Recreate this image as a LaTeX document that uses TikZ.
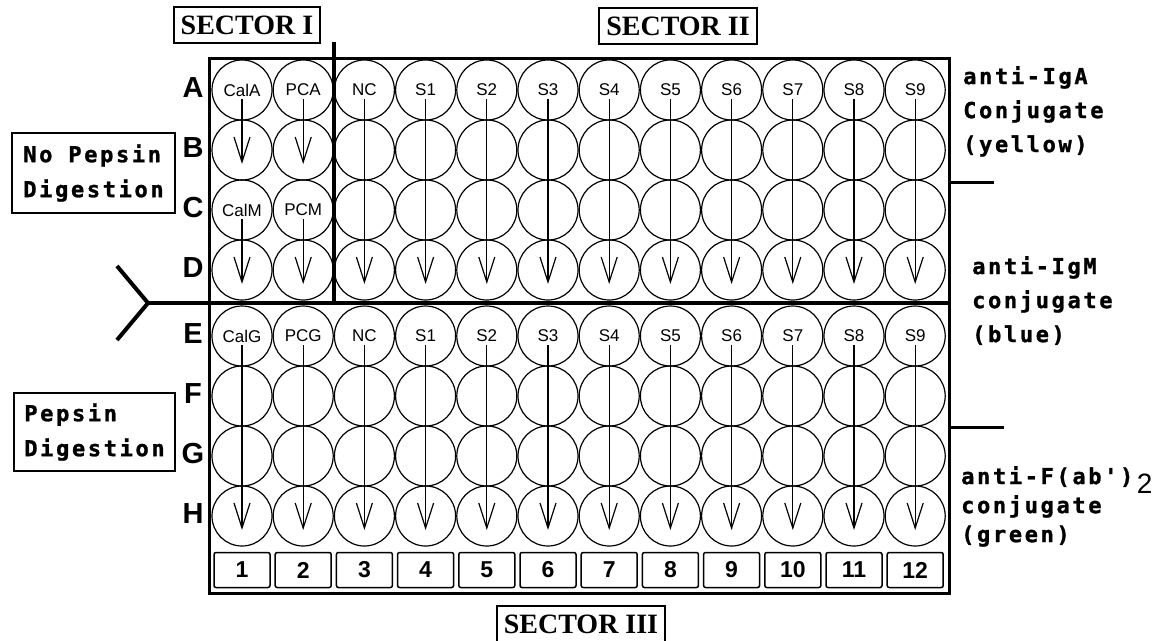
\documentclass[tikz,border=0pt]{standalone}
\usepackage{fontspec}
\setmainfont{Liberation Sans}
\newfontfamily\pixfont[LetterSpace=12, FakeBold=1.2]{DejaVu Sans Mono Bold}
\newfontfamily\serifbold{Liberation Serif}
\usetikzlibrary{arrows.meta,positioning}

\begin{document}
\begin{tikzpicture}[x=1pt, y=-1pt,
		well/.style={draw, circle, minimum size=60pt, inner sep=0pt, line width=1.2pt},
		welllabel/.style={inner sep=0pt, font=\fontsize{17}{17}\selectfont},
		rowlabel/.style={inner sep=0pt, font=\fontsize{29}{29}\selectfont\bfseries},
		numbox/.style={draw, rounded corners=2pt, line width=1.5pt, minimum width=56pt, minimum height=35pt, inner sep=0pt, font=\fontsize{23}{23}\selectfont\bfseries},
		sectorbox/.style={draw, line width=1.6pt, minimum height=36pt, inner xsep=7pt, font=\serifbold\bfseries\fontsize{28}{28}\selectfont},
		infobox/.style={draw, line width=1.8pt, align=left, font=\pixfont\fontsize{22}{35}\selectfont},
		conjlabel/.style={align=left, anchor=north west, inner sep=0pt, font=\pixfont\fontsize{22}{34}\selectfont},
		flow/.style={line width=1.2pt, shorten <=3pt, -{Straight Barb[length=25pt, width=16pt]}},
		divider/.style={line width=4pt},
		tick/.style={line width=3pt},
	]
	\useasboundingbox (0,0) rectangle (1167,640);

	% plate
	\node[draw, line width=3pt, minimum width=740pt, minimum height=535pt, inner sep=0pt] (plate) at (579,325.5) {};

	% wells and row letters
	\foreach \r/\y in {A/90, B/150, C/210, D/270, E/336, F/396, G/456, H/516} {
		\node[rowlabel] (row\r) at (193,\y-2) {\r};
		\foreach \c in {1,...,12}
			\node[well] (\r\c) at ({242+61.2*(\c-1)},\y) {};
	}

	% well labels
	\foreach \c/\t in {1/CalA, 2/PCA, 3/NC, 4/S1, 5/S2, 6/S3, 7/S4, 8/S5, 9/S6, 10/S7, 11/S8, 12/S9}
		\node[welllabel] (lA\c) at (A\c) {\t};
	\node[welllabel] (lC1) at (C1) {CalM};
	\node[welllabel] (lC2) at (C2) {PCM};
	\foreach \c/\t in {1/CalG, 2/PCG, 3/NC, 4/S1, 5/S2, 6/S3, 7/S4, 8/S5, 9/S6, 10/S7, 11/S8, 12/S9}
		\node[welllabel] (lE\c) at (E\c) {\t};

	% dilution arrows
	\foreach \c in {1,2} {
		\draw[flow] (lA\c.south) -- ([yshift=-14pt]B\c.center);
		\draw[flow] (lC\c.south) -- ([yshift=-14pt]D\c.center);
	}
	\foreach \c in {3,...,12}
		\draw[flow] (lA\c.south) -- ([yshift=-14pt]D\c.center);
	\foreach \c in {1,...,12}
		\draw[flow] (lE\c.south) -- ([yshift=-14pt]H\c.center);

	% column numbers
	\foreach \c in {1,...,12}
		\node[numbox] (n\c) at ({242+61.2*(\c-1)},570) {\c};

	% sector dividers
	\coordinate (split) at (148,303);
	\coordinate (chevup) at (117,266);
	\coordinate (chevdown) at (117,340);
	\coordinate (divtop) at (333.5,42);
	\draw[divider] (chevup) -- (split) -- (chevdown);
	\draw[divider] (split) -- (split -| plate.east);
	\draw[divider] (divtop) -- (divtop |- split);

	% sector titles
	\node[sectorbox] (sec1) at (247,25) {SECTOR I};
	\node[sectorbox] (sec2) at (678,26) {SECTOR II};
	\node[sectorbox] (sec3) at (581,624) {SECTOR III};

	% digestion boxes
	\node[infobox, minimum width=163pt, minimum height=80pt] (nopep) at (93.5,173) {No Pepsin\\Digestion};
	\node[infobox, minimum width=161pt, minimum height=78pt] (pep) at (94.5,432) {Pepsin\\Digestion};

	% conjugate labels
	\coordinate (tickA) at (plate.east |- 0,182);
	\coordinate (tickB) at (plate.east |- 0,427);
	\draw[tick] (tickA) -- ++(43,0);
	\draw[tick] (tickB) -- ++(53,0);
	\node[conjlabel] (iga) at (963,66) {anti-IgA\\Conjugate\\(yellow)};
	\node[conjlabel] (igm) at (972,256) {anti-IgM\\conjugate\\(blue)};
	\node[conjlabel, font=\pixfont\fontsize{22}{29}\selectfont] (fab) at (961,466)
		{anti-F(ab')\,{\normalfont\fontsize{28}{28}\selectfont\raisebox{-9pt}{2}}\\conjugate\\(green)};
\end{tikzpicture}
\end{document}
